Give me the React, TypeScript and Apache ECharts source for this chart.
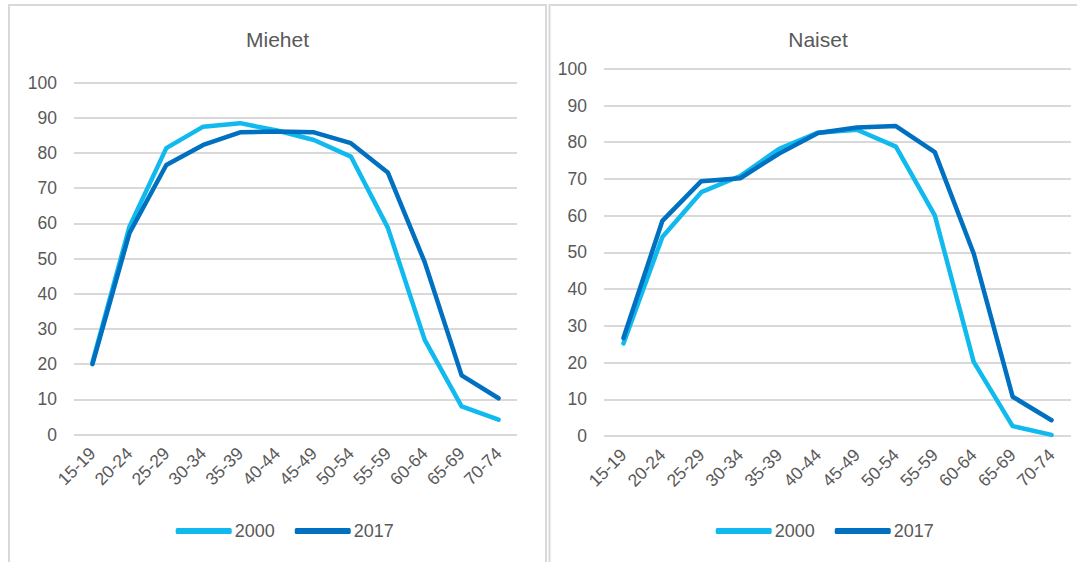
import React, { useEffect, useRef } from "react";
import * as echarts from "echarts";

const categories = ["15-19", "20-24", "25-29", "30-34", "35-39", "40-44", "45-49", "50-54", "55-59", "60-64", "65-69", "70-74"];
const seriesNames = ["2000", "2017"];
const miehet2000 = [20.5, 59, 81.4, 87.5, 88.5, 86.4, 83.7, 79.0, 58.8, 26.9, 8.0, 4.2];
const miehet2017 = [20, 57.2, 76.6, 82.3, 85.9, 86.1, 85.9, 82.8, 74.5, 49, 16.8, 10.3];
const naiset2000 = [25.2, 54.2, 66.4, 70.8, 78.2, 82.6, 83.4, 78.8, 60.1, 20.2, 2.7, 0.3];
const naiset2017 = [26.7, 58.6, 69.4, 70.2, 76.9, 82.5, 84.0, 84.4, 77.3, 49.7, 10.7, 4.3];
const titles = ["Miehet", "Naiset"];

const LIGHT = "#10BAEE";
const DARK = "#0070C0";
const GRAY = "#595959";
const GRID = "#D9D9D9";
const FONT = "'Liberation Sans', Arial, sans-serif";

export default function App() {
  const ref = useRef<HTMLDivElement>(null);
  useEffect(() => {
    const chart = echarts.init(ref.current!, null, { renderer: "svg" });
    const xAxis = (gi: number) => ({
      type: "category",
      gridIndex: gi,
      data: categories,
      boundaryGap: true,
      axisLine: { show: false },
      axisTick: { show: false },
      axisLabel: { rotate: 45, fontSize: 17.5, color: GRAY, fontFamily: FONT, margin: 16, interval: 0 },
    });
    const yAxis = (gi: number) => ({
      type: "value",
      gridIndex: gi,
      min: 0,
      max: 100,
      interval: 10,
      axisLine: { show: false },
      axisTick: { show: false },
      splitLine: { lineStyle: { color: GRID, width: 2 } },
      axisLabel: { fontSize: 17.5, color: GRAY, fontFamily: FONT, margin: 17 },
    });
    const line = (name: string, data: number[], gi: number, color: string) => ({
      type: "line",
      name,
      xAxisIndex: gi,
      yAxisIndex: gi,
      data,
      symbol: "none",
      color,
      lineStyle: { width: 4.5, color, cap: "round", join: "round" },
    });
    const legend = (left: number) => ({
      left,
      top: 517,
      data: seriesNames,
      icon: "roundRect",
      itemWidth: 56,
      itemHeight: 6,
      itemGap: 20,
      textStyle: { fontSize: 18, color: GRAY, fontFamily: FONT, padding: [0, 0, 0, -2] },
      selectedMode: false,
    });
    chart.setOption({
      animation: false,
      grid: [
        { left: 74, right: 1077 - 517, top: 82.7, bottom: 562 - 434.5, containLabel: false },
        { left: 604, right: 1077 - 1071, top: 68.8, bottom: 562 - 436, containLabel: false },
      ],
      xAxis: [xAxis(0), xAxis(1)],
      yAxis: [yAxis(0), yAxis(1)],
      legend: [legend(170.7), legend(710.7)],
      series: [
        line(seriesNames[0], miehet2000, 0, LIGHT),
        line(seriesNames[1], miehet2017, 0, DARK),
        line(seriesNames[0], naiset2000, 1, LIGHT),
        line(seriesNames[1], naiset2017, 1, DARK),
      ],
      graphic: [
        { type: "rect", shape: { x: 9, y: 5, width: 537, height: 600 }, style: { fill: "none", stroke: GRID, lineWidth: 2 }, silent: true },
        { type: "rect", shape: { x: 549.5, y: 5, width: 560, height: 600 }, style: { fill: "none", stroke: GRID, lineWidth: 2 }, silent: true },
        { type: "text", x: 277.5, y: 39, style: { text: titles[0], fontSize: 21, fill: GRAY, fontFamily: FONT, textAlign: "center", textVerticalAlign: "middle" } },
        { type: "text", x: 818, y: 39, style: { text: titles[1], fontSize: 21, fill: GRAY, fontFamily: FONT, textAlign: "center", textVerticalAlign: "middle" } },
      ],
    });
    return () => chart.dispose();
  }, []);
  return <div ref={ref} style={{ position: "absolute", left: 0, top: 0, width: 1077, height: 562, background: "#fff" }} />;
}
